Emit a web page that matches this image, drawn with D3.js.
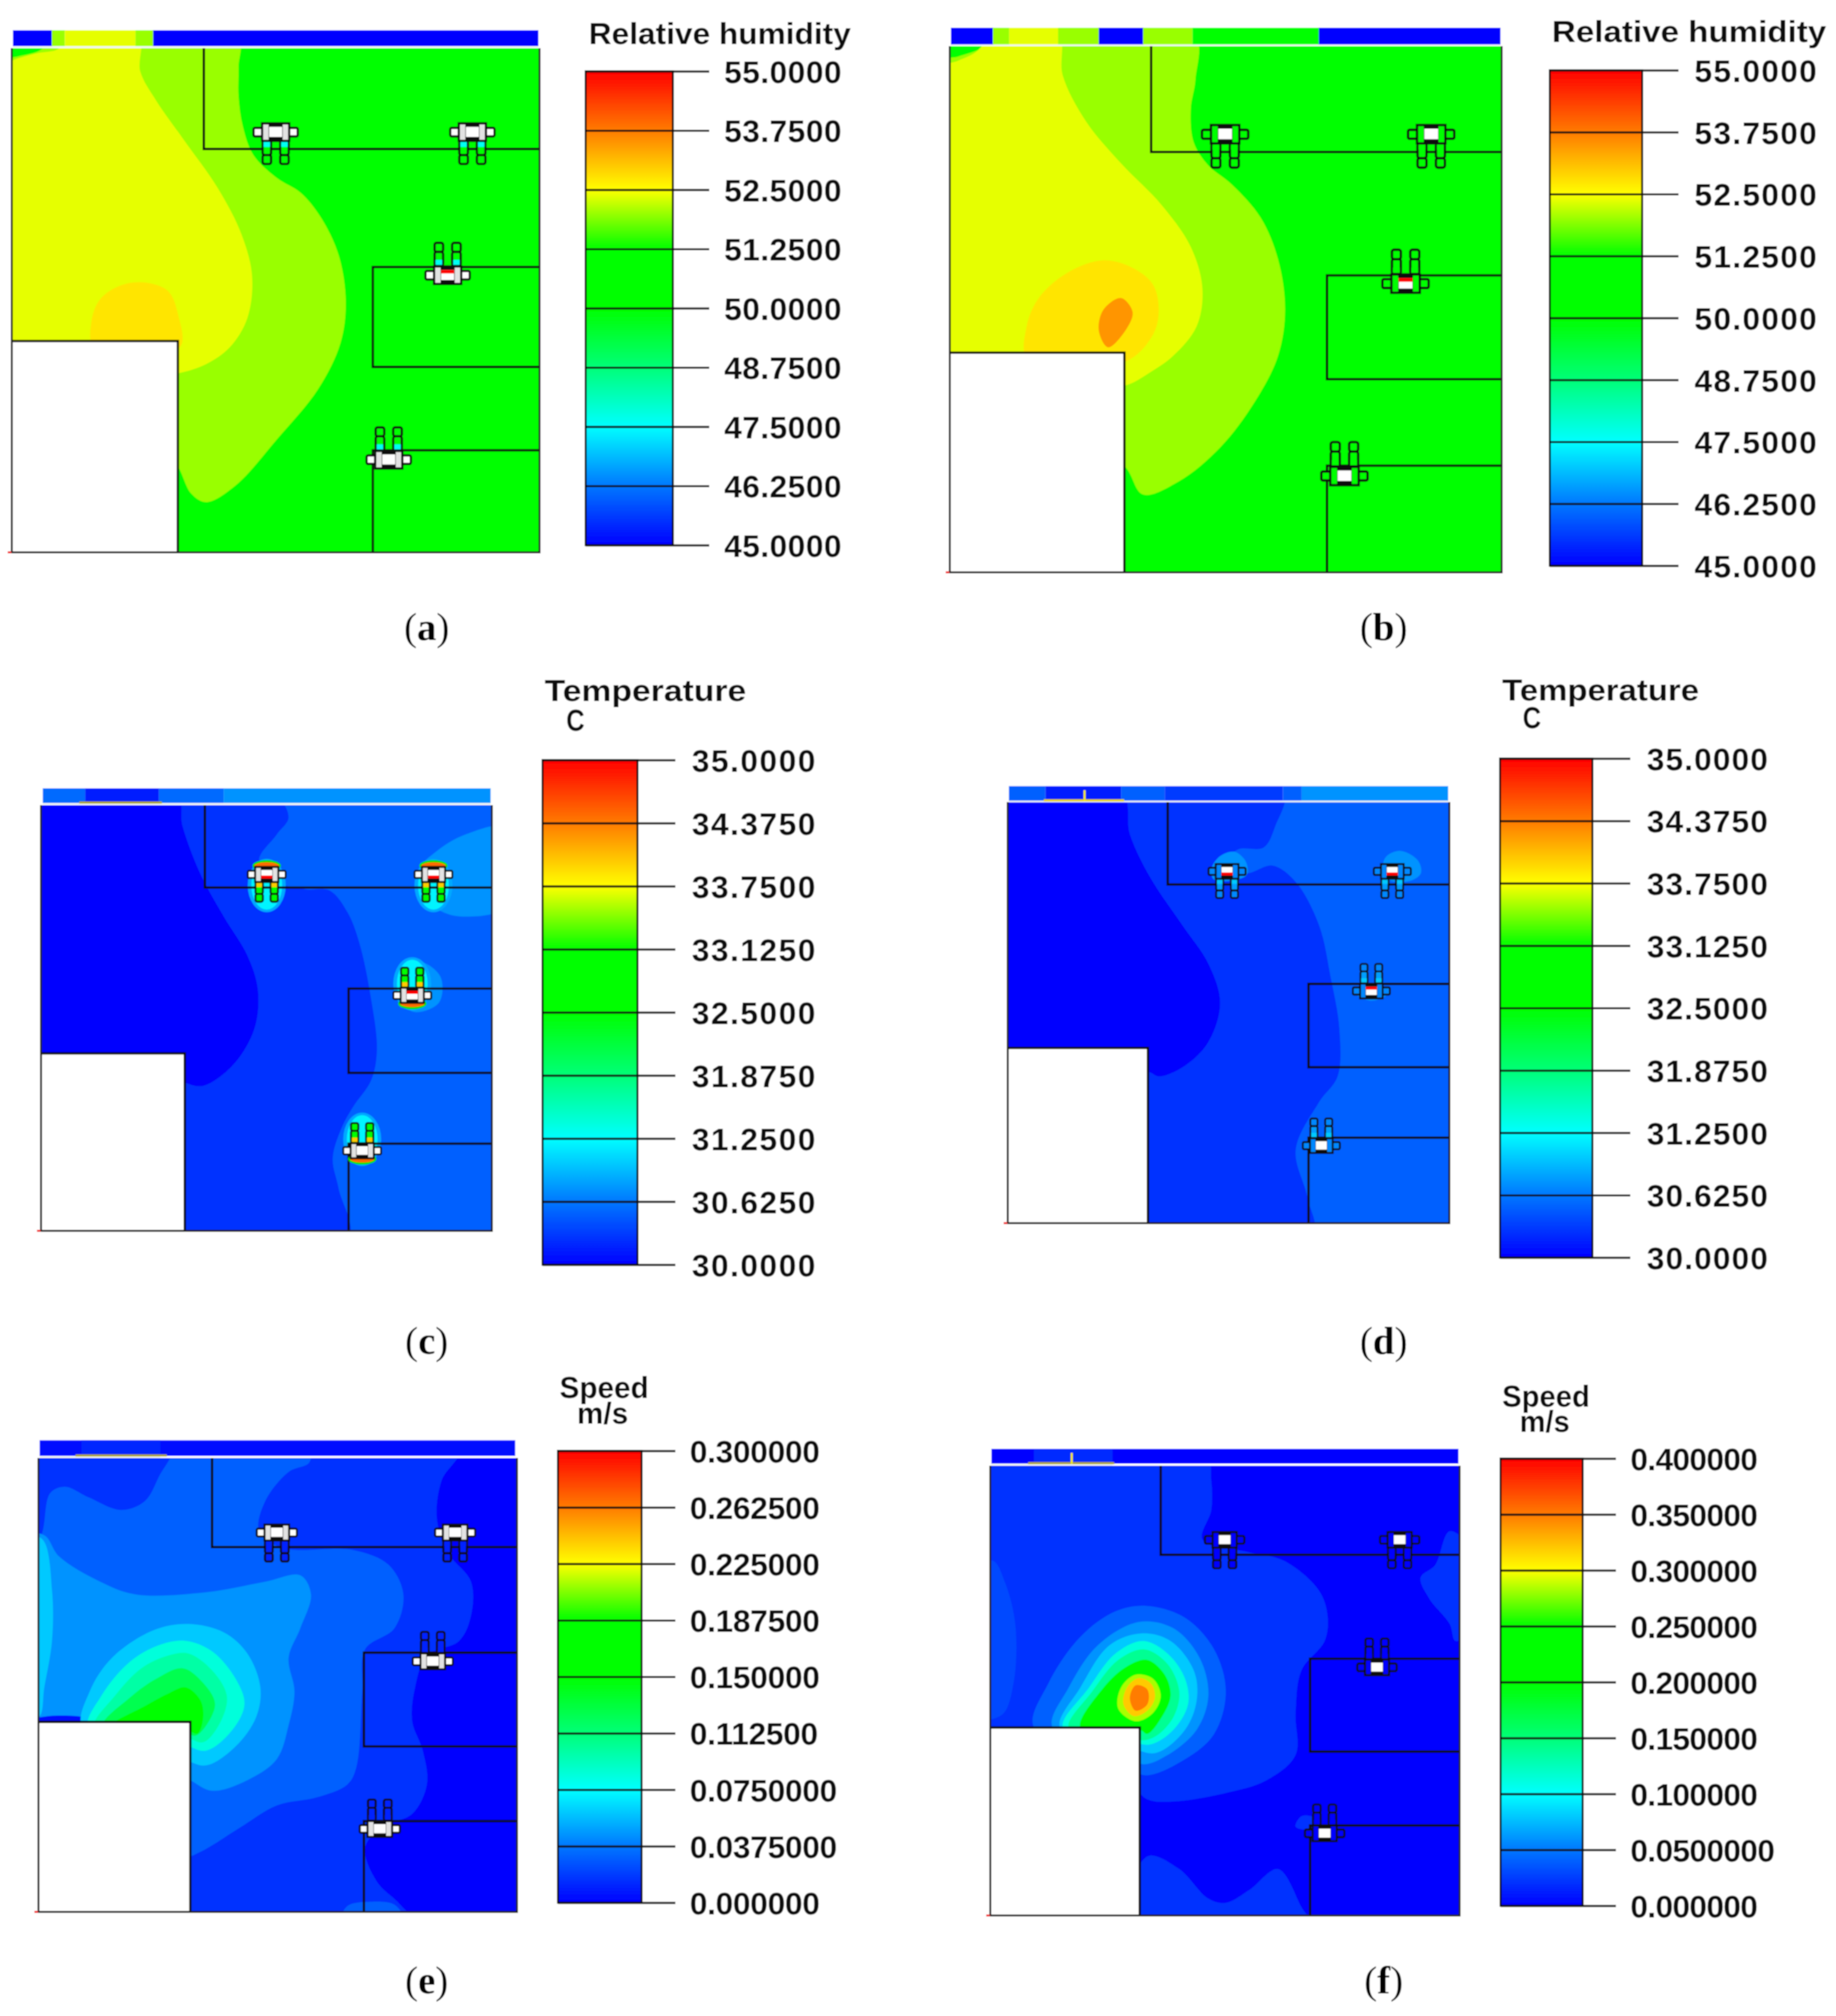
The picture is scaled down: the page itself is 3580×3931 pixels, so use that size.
<!DOCTYPE html>
<html>
<head>
<meta charset="utf-8">
<title>Relative humidity, temperature and speed fields</title>
<script src="https://cdn.jsdelivr.net/npm/d3@7"></script>
<style>
  html, body { margin: 0; padding: 0; background: #fff; }
  svg { display: block; }
</style>
</head>
<body>
<svg id="chart"></svg>
<script>
/**
 * Colour key. Position along the bar, 0 = bottom, 1 = top.
 */
var rainbowStops = [0, 0.125, 0.25, 0.375, 0.5, 0.625, 0.75, 0.875, 1];
var rainbowColors = ["#0000ff", "#0078ff", "#00ffff", "#00ff78", "#00ff00", "#00ff00", "#ffff00", "#ff7b00", "#ff0000"];

/**
 * Tick values and their printed labels.
 */
var humidityTicks = [45, 46.25, 47.5, 48.75, 50, 51.25, 52.5, 53.75, 55];
var humidityLabels = ["45.0000", "46.2500", "47.5000", "48.7500", "50.0000", "51.2500", "52.5000", "53.7500", "55.0000"];
var temperatureTicks = [30, 30.625, 31.25, 31.875, 32.5, 33.125, 33.75, 34.375, 35];
var temperatureLabels = ["30.0000", "30.6250", "31.2500", "31.8750", "32.5000", "33.1250", "33.7500", "34.3750", "35.0000"];
var speedTicksE = [0, 0.0375, 0.075, 0.1125, 0.15, 0.1875, 0.225, 0.2625, 0.3];
var speedLabelsE = ["0.000000", "0.0375000", "0.0750000", "0.112500", "0.150000", "0.187500", "0.225000", "0.262500", "0.300000"];
var speedTicksF = [0, 0.05, 0.1, 0.15, 0.2, 0.25, 0.3, 0.35, 0.4];
var speedLabelsF = ["0.000000", "0.0500000", "0.100000", "0.150000", "0.200000", "0.250000", "0.300000", "0.350000", "0.400000"];

/**
 * Filled contour bands: [field value, outline]. Outlines are read off each
 * panel in its own grid units (see gridX / gridY below) and painted in order.
 */
var bandsA = [
    [52, [[403,85],[405,160],[405,230],[412,300],[430,370],[470,425],[510,460],[545,520],[575,610],[587,720],[578,820],[540,930],[470,1050],[400,1160],[350,1200],[325,1180],[295,1100],[200,1000],[-10,1000],[-10,150],[30,135],[70,118],[85,85]]],
    [52.375, [[235,85],[238,170],[265,240],[310,330],[370,450],[410,560],[428,660],[420,760],[390,830],[350,870],[303,892],[250,900],[-10,900],[-10,170],[20,145],[60,128],[100,115],[100,85]]],
    [52.75, [[160,830],[155,770],[170,715],[205,682],[245,675],[285,695],[302,750],[305,830]]]
];
var bandsB = [
    [52, [[465,80],[468,190],[460,260],[465,340],[490,395],[530,440],[580,520],[610,620],[622,740],[610,850],[570,960],[510,1070],[440,1150],[378,1182],[350,1120],[300,1050],[20,1050],[20,150],[60,135],[100,115],[130,80]]],
    [52.375, [[232,80],[240,180],[280,290],[340,390],[410,490],[460,590],[480,690],[470,780],[430,850],[390,890],[346,922],[250,930],[20,930],[20,170],[60,145],[90,125],[125,80]]],
    [52.75, [[180,860],[178,780],[200,710],[250,650],[310,622],[360,640],[395,680],[405,740],[395,800],[346,865]]],
    [53.5, [[318,830],[302,790],[310,740],[340,712],[360,745],[350,785]]]
];
var bandsC = [
    [30.75, [[860,385],[790,400],[740,440],[712,480],[715,540],[745,575],[785,590],[860,565]]],
    [30.75, [[672,750],[685,705],[715,695],[748,730],[745,790],[700,810]]],
    [30.25, [[465,310],[490,360],[470,400],[440,460],[470,510],[520,527],[560,530],[590,580],[610,650],[630,780],[640,900],[630,970],[600,1030],[580,1080],[565,1150],[575,1220],[590,1340],[40,1340],[40,310]]],
    [30, [[300,310],[310,380],[340,490],[380,590],[420,680],[438,760],[432,850],[395,935],[345,982],[315,975],[250,930],[40,930],[40,310]]]
];
var bandsD = [
    [30.25, [[618,300],[605,380],[585,430],[540,435],[515,470],[555,490],[600,472],[640,510],[680,610],[700,730],[715,850],[712,960],[680,1020],[640,1130],[660,1240],[668,1330],[110,1330],[110,300]]],
    [30, [[340,300],[355,400],[390,500],[445,610],[490,700],[510,790],[490,880],[450,935],[405,960],[388,950],[300,920],[110,920],[110,300]]],
    [30.75, [[790,480],[795,452],[820,438],[850,460],[855,490],[835,508],[800,505]]],
    [30.75, [[495,480],[510,450],[535,440],[555,465],[555,495],[500,505]]],
    [30.75, [[745,770],[770,745],[797,770],[770,785]]]
];
var bandsE = [
    [0.015, [[780,225],[750,300],[742,390],[760,470],[800,540],[800,620],[780,680],[725,715],[705,790],[700,870],[718,940],[725,1020],[700,1090],[650,1120],[620,1170],[640,1250],[680,1305],[700,1345],[40,1345],[40,225]]],
    [0.03, [[525,225],[525,258],[490,280],[450,350],[440,420],[480,460],[600,465],[660,500],[685,570],[670,650],[620,700],[615,800],[605,980],[590,1020],[540,1050],[470,1070],[410,1120],[340,1180],[300,1200],[40,1200],[40,225]]],
    [0.03, [[580,1340],[590,1308],[630,1298],[670,1305],[685,1340]]],
    [0.015, [[40,225],[290,225],[270,290],[245,350],[205,370],[150,340],[110,315],[85,330],[70,430],[40,500]]],
    [0.045, [[40,430],[75,430],[100,480],[170,540],[230,570],[350,565],[450,540],[510,525],[528,570],[510,650],[490,720],[500,800],[490,880],[470,960],[420,1010],[360,1035],[323,1010],[250,950],[40,950]]],
    [0.06, [[40,430],[72,440],[88,560],[88,680],[75,790],[66,860],[40,860]]],
    [0.005, [[40,880],[65,862],[140,860],[180,880]]],
    [0.06, [[140,885],[152,800],[190,720],[260,655],[320,640],[380,660],[420,710],[442,790],[435,860],[400,930],[350,975],[310,960]]],
    [0.085, [[150,885],[172,810],[220,730],[270,690],[315,680],[360,705],[400,770],[415,830],[395,890],[350,940],[310,925]]],
    [0.1, [[160,885],[195,810],[240,745],[285,715],[320,710],[360,750],[385,810],[375,870],[345,920],[310,905]]],
    [0.125, [[175,880],[220,815],[265,770],[310,745],[345,780],[365,830],[345,890],[330,905],[310,890]]],
    [0.15, [[190,880],[245,835],[285,805],[315,790],[340,820],[345,860],[335,900],[310,885]]]
];
var bandsF = [
    [0.02, [[485,240],[495,300],[495,370],[480,440],[560,470],[620,490],[680,560],[695,620],[690,680],[650,750],[640,850],[640,950],[590,1010],[520,1040],[430,1060],[385,1055],[340,1000],[90,1000],[90,240]]],
    [0.02, [[385,1190],[440,1220],[490,1290],[520,1300],[560,1270],[610,1220],[650,1310],[665,1350],[350,1350]]],
    [0.02, [[905,420],[880,500],[855,530],[870,580],[905,640],[915,680],[945,650],[945,470]]],
    [0.02, [[640,1120],[650,1095],[675,1100],[665,1125]]],
    [0.03, [[90,500],[120,490],[140,540],[158,640],[155,780],[135,855],[90,860]]],
    [0.04, [[190,885],[215,780],[270,670],[330,610],[385,597],[450,625],[500,700],[520,800],[500,900],[450,960],[380,998],[350,970]]],
    [0.06, [[222,885],[250,790],[300,690],[370,635],[430,650],[475,720],[490,810],[470,890],[420,950],[378,972],[350,950]]],
    [0.08, [[235,885],[270,790],[320,690],[375,662],[425,680],[465,750],[470,820],[450,890],[400,945],[350,930]]],
    [0.113, [[240,885],[285,790],[330,710],[378,680],[420,710],[450,770],[455,830],[430,890],[390,925],[350,915]]],
    [0.14, [[250,885],[290,800],[335,725],[380,700],[420,735],[440,800],[430,860],[400,905],[375,915],[350,895]]],
    [0.2, [[270,885],[310,790],[350,740],[385,725],[415,760],[425,810],[410,860],[385,900],[372,890]]],
    [0.283, [[335,840],[340,790],[365,760],[395,770],[408,810],[395,850],[365,870]]],
    [0.32, [[344,830],[350,790],[370,768],[392,782],[398,815],[385,845],[362,858]]],
    [0.35, [[355,815],[365,785],[385,795],[385,830],[365,845]]]
];

/**
 * Supply strip above the room: [from, to, field value].
 */
var stripA = [[22,88,45],[88,110,52],[110,230,52.375],[230,260,52],[260,914,45]];
var stripB = [[48,120,45],[120,148,52],[148,232,52.375],[232,302,52],[302,378,45],[378,463,52],[463,680,50],[680,992,45]];
var stripC = [[73,145,30.55],[145,270,30.15],[270,380,30.55],[380,833,30.75]];
var stripD = [[147,210,30.5],[210,340,30.15],[340,415,30.5],[415,618,30.3],[618,650,30.5],[650,902,30.75]];
var stripE = [[67,875,0.003],[138,272,0.012]];
var stripF = [[117,920,0.002],[190,325,0.018]];

/**
 * Occupants: torso centre, which way the legs point, red patch on the chest.
 */
var peopleA = [[468,315,1,0],[802,315,1,0],[760,657,-1,1],[660,1098,-1,0]];
var peopleB = [[519,320,1,0],[873,320,1,0],[829,677,-1,1],[724,1137,-1,0]];
var peopleC = [[453,492,1,1],[736,492,1,1],[700,772,-1,1],[615,1132,-1,0]];
var peopleD = [[522,485,1,1],[806,485,1,1],[770,762,-1,1],[684,1120,-1,0]];
var peopleE = [[470,423,1,0],[773,423,1,0],[735,728,-1,0],[645,1125,-1,0]];
var peopleF = [[518,440,1,0],[819,440,1,0],[780,742,-1,0],[690,1135,-1,0]];

/**
 * One object per panel: where it sits on the page plus the arrays above.
 * Person colours are field values: leg tip at the torso, then the two leg cells.
 */
var panels = [
    { caption: "a", captionX: 832, captionY: 1248,
      left: 23, right: 1052, top: 94, bottom: 1077, gridX: [20, 916], gridY: [115, 1320],
      stripY: [72, 110], mark: null,
      bar: [1142, 1312, 139, 1063, 1383, 1412], labelGap: 0.8,
      ticks: humidityTicks, labels: humidityLabels,
      title: [["Relative humidity", 1148, 86, 511]],
      walls: [346, 356, 633, 638, 877, 1076], box: [302, 815],
      bands: bandsA, strip: stripA, people: peopleA,
      halo: [], hood: false, suit: "white", legTip: 47.6, legNear: 50, legFar: 50, base: 50 },
    { caption: "b", captionX: 2698, captionY: 1248,
      left: 1852, right: 2928, top: 90, bottom: 1116, gridX: [46, 994], gridY: [110, 1368],
      stripY: [66, 106], mark: null,
      bar: [3022, 3202, 137, 1103, 3273, 3304], labelGap: 2.4,
      ticks: humidityTicks, labels: humidityLabels,
      title: [["Relative humidity", 3026, 82, 535]],
      walls: [392, 363, 694, 658, 906, 1113], box: [346, 843],
      bands: bandsB, strip: stripB, people: peopleB,
      halo: [], hood: false, suit: "field", legTip: 50, legNear: 50, legFar: 50, base: 50 },
    { caption: "c", captionX: 832, captionY: 2640,
      left: 80, right: 959, top: 1570, bottom: 2400, gridX: [70, 835], gridY: [332, 1318],
      stripY: [293, 327], mark: [135, 275, null, 33.2],
      bar: [1058, 1243, 1482, 2466, 1317, 1349], labelGap: 2.8,
      ticks: temperatureTicks, labels: temperatureLabels,
      title: [["Temperature", 1062, 1367, 393], ["C", 1104, 1425, 36]],
      walls: [348, 523, 592, 757, 952, 1116], box: [314, 907],
      bands: bandsC, strip: stripC, people: peopleC,
      halo: [[30.85, 37, 52], [31.2, 30, 47]], hood: true, suit: "white", legTip: 34, legNear: 32.5, legFar: 32.5, base: 30.5 },
    { caption: "d", captionX: 2698, captionY: 2640,
      left: 1965, right: 2826, top: 1564, bottom: 2385, gridX: [145, 904], gridY: [325, 1300],
      stripY: [288, 322], mark: [207, 345, 277, 33.75],
      bar: [2925, 3105, 1479, 2452, 3179, 3211], labelGap: 2,
      ticks: temperatureTicks, labels: temperatureLabels,
      title: [["Temperature", 2929, 1366, 384], ["C", 2969, 1420, 36]],
      walls: [420, 516, 662, 746, 939, 1102], box: [386, 894],
      bands: bandsD, strip: stripD, people: peopleD,
      halo: [], hood: false, suit: "field", legTip: 31, legNear: 30.8, legFar: 30.7, base: 30.5 },
    { caption: "e", captionX: 832, captionY: 3887,
      left: 75, right: 1008, top: 2843, bottom: 3728, gridX: [65, 878], gridY: [247, 1322],
      stripY: [205, 242], mark: [128, 283, null, 0.2],
      bar: [1088, 1251, 2829, 3710, 1317, 1345], labelGap: -0.7,
      ticks: speedTicksE, labels: speedLabelsE,
      title: [["Speed", 1091, 2726, 174], ["m/s", 1125, 2776, 100]],
      walls: [360, 458, 618, 708, 930, 1107], box: [323, 872],
      bands: bandsE, strip: stripE, people: peopleE,
      halo: [], hood: false, suit: "white", legTip: 0.01, legNear: 0.01, legFar: 0.01, base: 0 },
    { caption: "f", captionX: 2698, captionY: 3887,
      left: 1931, right: 2846, top: 2858, bottom: 3735, gridX: [115, 922], gridY: [265, 1330],
      stripY: [225, 260], mark: [180, 328, 255, 0.28],
      bar: [2926, 3086, 2844, 3716, 3151, 3179], labelGap: -1.4,
      ticks: speedTicksF, labels: speedLabelsF,
      title: [["Speed", 2929, 2743, 171], ["m/s", 2963, 2792, 98]],
      walls: [408, 476, 665, 722, 942, 1117], box: [372, 885],
      bands: bandsF, strip: stripF, people: peopleF,
      halo: [], hood: false, suit: "field", legTip: 0, legNear: 0, legFar: 0, base: 0 }
];

var w = 3580;
var h = 3931;
var ink = "#111";
var labelFont = "'Liberation Sans', Arial, sans-serif";

var svg = d3.select("#chart").attr("width", w).attr("height", h);
var defs = svg.append("defs");

// The source is an enlarged screen grab, everything is slightly soft.
defs.append("filter")
    .attr("id", "soft")
    .attr("filterUnits", "userSpaceOnUse")
    .attr("x", 0).attr("y", 0).attr("width", w).attr("height", h)
    .append("feGaussianBlur")
    .attr("stdDeviation", 1.1);

// Vertical gradient shared by the six colour bars.
defs.append("linearGradient")
    .attr("id", "rainbow")
    .attr("x1", 0).attr("x2", 0).attr("y1", 1).attr("y2", 0)
    .selectAll("stop")
    .data(rainbowStops)
    .enter()
    .append("stop")
    .attr("offset", function(d) { return d; })
    .attr("stop-color", function(d, i) { return rainbowColors[i]; });

var root = svg.append("g").attr("filter", "url(#soft)");
root.append("rect").attr("width", w).attr("height", h).attr("fill", "#fff");

var smooth = d3.line().curve(d3.curveCatmullRomClosed.alpha(0.5));

/**
 * Draw a single occupant at the origin of group g.
 * @param o: entry of a people array
 */
var drawPerson = function(g, p, color, o) {
    let dir = o[2];
    let white = p.suit === "white";
    let suitFill = white ? "#fff" : color(p.legFar);
    let outlined = function(sel) {
        return sel.attr("stroke", ink).attr("stroke-width", 4.5);
    };

    // Arms.
    [-1, 1].forEach(function(side) {
        outlined(g.append("rect"))
            .attr("x", side < 0 ? -44 : 26)
            .attr("y", -8)
            .attr("width", 18)
            .attr("height", 17)
            .attr("rx", 3)
            .attr("fill", suitFill);
    });

    // Legs, each one two cells with a coloured tip next to the torso.
    [-1, 1].forEach(function(side) {
        let x0 = side < 0 ? -26 : 9;
        [[18, 28, p.legNear], [46, 18, p.legFar]].forEach(function(part) {
            outlined(g.append("rect"))
                .attr("x", x0)
                .attr("y", dir > 0 ? part[0] : -part[0] - part[1])
                .attr("width", 17)
                .attr("height", part[1])
                .attr("rx", 4)
                .attr("fill", color(part[2]));
        });
        g.append("rect")
            .attr("x", x0 + 2)
            .attr("y", dir > 0 ? 20 : -30)
            .attr("width", 13)
            .attr("height", 10)
            .attr("fill", color(p.legTip));
    });

    // Torso.
    outlined(g.append("rect"))
        .attr("x", -27)
        .attr("y", -17)
        .attr("width", 54)
        .attr("height", 35)
        .attr("fill", white ? "#e2e2e2" : suitFill);
    g.append("rect")
        .attr("x", -14)
        .attr("y", -17)
        .attr("width", 28)
        .attr("height", 35)
        .attr("fill", ink);
    g.append("rect")
        .attr("x", -13)
        .attr("y", -10)
        .attr("width", 26)
        .attr("height", 20)
        .attr("fill", "#fff");
    if (o[3]) {
        g.append("rect")
            .attr("x", -13)
            .attr("y", dir > 0 ? 3 : -10)
            .attr("width", 26)
            .attr("height", 7)
            .attr("fill", "#ff0000");
    }
};

/**
 * Draw one panel: field, strip, walls, occupants, colour bar, labels.
 */
var drawPanel = function(p, i) {
    let g = root.append("g").attr("class", "panel-" + p.caption);

    let x = d3.scaleLinear().domain(p.gridX).range([p.left, p.right]);
    let y = d3.scaleLinear().domain(p.gridY).range([p.top, p.bottom]);
    let lo = p.ticks[0];
    let hi = p.ticks[p.ticks.length - 1];
    let color = d3.scaleLinear()
        .domain(rainbowStops.map(function(f) { return lo + f * (hi - lo); }))
        .range(rainbowColors);
    let line = smooth.x(function(d) { return x(d[0]); }).y(function(d) { return y(d[1]); });
    let gridLeft = p.gridX[0];
    let gridRight = p.gridX[1];
    let gridTop = p.gridY[0];
    let gridBottom = p.gridY[1];

    // Clip the field to the room.
    defs.append("clipPath")
        .attr("id", "room-" + i)
        .append("rect")
        .attr("x", p.left)
        .attr("y", p.top)
        .attr("width", p.right - p.left)
        .attr("height", p.bottom - p.top);

    let field = g.append("g").attr("clip-path", "url(#room-" + i + ")");
    field.append("rect")
        .attr("x", p.left)
        .attr("y", p.top)
        .attr("width", p.right - p.left)
        .attr("height", p.bottom - p.top)
        .attr("fill", color(p.base));

    field.selectAll("path.band")
        .data(p.bands)
        .enter()
        .append("path")
        .attr("class", "band")
        .attr("fill", function(d) { return color(d[0]); })
        .attr("d", function(d) { return line(d[1]); });

    // Warm halos around the occupants (panel c).
    p.people.forEach(function(o) {
        let cy = y(o[1]) + o[2] * 22;
        p.halo.forEach(function(ring) {
            field.append("ellipse")
                .attr("cx", x(o[0]))
                .attr("cy", cy)
                .attr("rx", ring[1])
                .attr("ry", ring[2])
                .attr("fill", color(ring[0]));
        });
    });

    // Supply strip.
    g.selectAll("rect.strip")
        .data(p.strip)
        .enter()
        .append("rect")
        .attr("class", "strip")
        .attr("x", function(d) { return x(d[0]); })
        .attr("y", y(p.stripY[0]))
        .attr("width", function(d) { return x(d[1]) - x(d[0]); })
        .attr("height", y(p.stripY[1]) - y(p.stripY[0]))
        .attr("fill", function(d) { return color(d[2]); });

    // Pale line between strip and room.
    g.append("rect")
        .attr("x", x(p.strip[0][0]))
        .attr("y", y(p.stripY[1]))
        .attr("width", x(p.strip[p.strip.length - 1][1]) - x(p.strip[0][0]))
        .attr("height", Math.max(y(gridTop) - y(p.stripY[1]), 3))
        .attr("fill", "#f2f6f2");

    if (p.mark) {
        g.append("rect")
            .attr("x", x(p.mark[0]))
            .attr("y", y(p.stripY[1]) - 3)
            .attr("width", x(p.mark[1]) - x(p.mark[0]))
            .attr("height", 4)
            .attr("fill", p.mark[3] > 33.5 ? "#e6d000" : "#a8a020");
        if (p.mark[2] !== null) {
            g.append("line")
                .attr("x1", x(p.mark[2]))
                .attr("x2", x(p.mark[2]))
                .attr("y1", y(p.stripY[0]) + 8)
                .attr("y2", y(p.stripY[1]))
                .attr("stroke", "#f5ea00")
                .attr("stroke-width", 4);
        }
    }

    // Obstacle, room outline and partitions.
    let wallLine = d3.line().x(function(d) { return x(d[0]); }).y(function(d) { return y(d[1]); });
    g.append("rect")
        .attr("x", x(gridLeft))
        .attr("y", y(p.box[1]))
        .attr("width", x(p.box[0]) - x(gridLeft))
        .attr("height", y(gridBottom) - y(p.box[1]))
        .attr("fill", "#fff");

    let w0 = p.walls;
    let wallPaths = [
        [[w0[0], gridTop], [w0[0], w0[1]], [gridRight, w0[1]]],
        [[gridRight, w0[3]], [w0[2], w0[3]], [w0[2], w0[4]], [gridRight, w0[4]]],
        [[gridRight, w0[5]], [w0[2], w0[5]], [w0[2], gridBottom]],
        [[gridLeft, p.box[1]], [p.box[0], p.box[1]], [p.box[0], gridBottom]]
    ];
    g.selectAll("path.wall")
        .data(wallPaths)
        .enter()
        .append("path")
        .attr("class", "wall")
        .attr("d", wallLine)
        .attr("fill", "none")
        .attr("stroke", ink)
        .attr("stroke-width", 4.5);

    g.append("path")
        .attr("d", wallLine([[gridLeft, gridTop], [gridLeft, gridBottom], [gridRight, gridBottom], [gridRight, gridTop]]))
        .attr("fill", "none")
        .attr("stroke", "#222")
        .attr("stroke-width", 4);

    g.append("rect")
        .attr("x", p.left - 8)
        .attr("y", p.bottom - 2)
        .attr("width", 7)
        .attr("height", 4)
        .attr("fill", "#f01010");

    // Occupants.
    let scale = (p.right - p.left) / 1050;
    g.selectAll("g.person")
        .data(p.people)
        .enter()
        .append("g")
        .attr("class", "person")
        .attr("transform", function(d) {
            return "translate(" + x(d[0]) + "," + y(d[1]) + ") scale(" + scale + ")";
        })
        .each(function(d) {
            if (p.hood) {
                d3.select(this).append("ellipse")
                    .attr("cy", -d[2] * 20)
                    .attr("rx", 33)
                    .attr("ry", 13)
                    .attr("fill", "#00e000");
                d3.select(this).append("ellipse")
                    .attr("cy", -d[2] * 19)
                    .attr("rx", 29)
                    .attr("ry", 9)
                    .attr("fill", "#ff6a00");
            }
            drawPerson(d3.select(this), p, color, d);
        });

    // Colour bar with its axis.
    let bar = p.bar;
    let barScale = d3.scaleLinear().domain([lo, hi]).range([bar[3], bar[2]]);
    g.append("rect")
        .attr("x", bar[0])
        .attr("y", bar[2])
        .attr("width", bar[1] - bar[0])
        .attr("height", bar[3] - bar[2])
        .attr("fill", "url(#rainbow)")
        .attr("stroke", ink)
        .attr("stroke-width", 4);

    let axis = g.append("g")
        .attr("transform", "translate(" + bar[1] + ",0)")
        .call(d3.axisRight(barScale)
            .tickValues(p.ticks)
            .tickFormat(function(d, k) { return p.labels[k]; })
            .tickSizeInner(bar[4] - bar[1])
            .tickSizeOuter(0)
            .tickPadding(bar[5] - bar[4]));
    axis.select(".domain").remove();
    axis.selectAll("line")
        .attr("x1", bar[0] - bar[1])
        .attr("stroke", ink)
        .attr("stroke-width", 4);
    axis.selectAll("text")
        .attr("fill", "#111")
        .attr("font-family", labelFont)
        .attr("font-weight", 700)
        .attr("font-size", 62)
        .attr("letter-spacing", p.labelGap)
        .attr("dy", "0.36em");

    // Bar title, one text with one or two lines.
    g.append("text")
        .attr("class", "title")
        .attr("font-family", labelFont)
        .attr("font-weight", 700)
        .attr("font-size", 60)
        .attr("fill", "#111")
        .selectAll("tspan")
        .data(p.title)
        .enter()
        .append("tspan")
        .attr("x", function(d) { return d[1]; })
        .attr("y", function(d) { return d[2]; })
        .attr("textLength", function(d) { return d[3]; })
        .attr("lengthAdjust", "spacingAndGlyphs")
        .text(function(d) { return d[0]; });

    // Panel caption, the letter in bold.
    let cap = g.append("text")
        .attr("x", p.captionX)
        .attr("y", p.captionY)
        .attr("text-anchor", "middle")
        .attr("font-family", "'Liberation Serif', 'Times New Roman', serif")
        .attr("font-size", 76)
        .attr("fill", "#000");
    cap.append("tspan").text("(");
    cap.append("tspan").attr("font-weight", 700).text(p.caption);
    cap.append("tspan").text(")");
};

panels.forEach(drawPanel);
</script>
</body>
</html>
